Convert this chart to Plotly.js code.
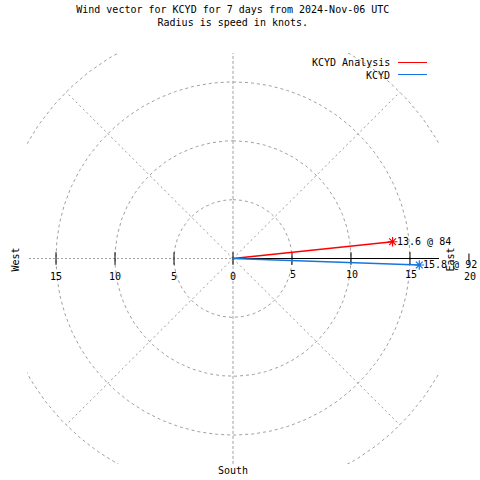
<!DOCTYPE html>
<html><head><meta charset="utf-8">
<script src="https://cdn.plot.ly/plotly-3.0.1.min.js"></script>
<style>html,body{margin:0;padding:0;background:#fff}</style>
</head><body><div id="chart" style="width:480px;height:480px"></div>
<script>
// ---- data ----
const series = ['KCYD Analysis', 'KCYD'];
const speeds = [13.6, 15.8];
const directions = [84, 92];
const ringRadii = [5, 10, 15, 20];
const tickValues = [5, 10, 15];
const leftTickValues = [15, 10, 5, 0];
const outerTick = 20;
const titleLines = ['Wind vector for KCYD for 7 days from 2024-Nov-06 UTC', 'Radius is speed in knots.'];

// ---- styles ----
const colors = ['#ff0000', '#1476e2'];
const gridColor = '#a0a0a0';
const FONT = {family: 'DejaVu Sans Mono, Liberation Mono, monospace', size: 10, color: '#000'};
const R = 17.46;
const M = {l: 27, r: 41, t: 53, b: 16};
const W = 480, H = 480;
const pw = W - M.l - M.r, ph = H - M.t - M.b;
const pxX = v => (v - M.l) / pw;       // pixel -> paper x
const pxY = v => (H - M.b - v) / ph;   // pixel -> paper y
const kx = v => (v + R) / (2 * R);     // knots -> paper x
const rad = d => d * Math.PI / 180;

const traces = [];
// rings
ringRadii.forEach(r => {
  const xs = [], ys = [];
  for (let t = 0; t <= 360; t += 1) { xs.push(r * Math.sin(rad(t))); ys.push(r * Math.cos(rad(t))); }
  traces.push({x: xs, y: ys, mode: 'lines', line: {color: gridColor, width: 1, dash: '3px,3px'}, hoverinfo: 'skip'});
});
// diagonals
[45, 135, 225, 315].forEach(a => {
  const rMax = ringRadii[ringRadii.length - 1];
  traces.push({x: [0, rMax * Math.sin(rad(a))], y: [0, rMax * Math.cos(rad(a))], mode: 'lines',
    line: {color: '#999999', width: 1, dash: '2px,3px'}, hoverinfo: 'skip'});
});
// axis lines
traces.push({x: [-20, 0], y: [0, 0], mode: 'lines', line: {color: gridColor, width: 1, dash: '2px,2px'}, hoverinfo: 'skip'});
traces.push({x: [0, 0], y: [-20, 20], mode: 'lines', line: {color: gridColor, width: 1, dash: '3px,2px'}, hoverinfo: 'skip'});
traces.push({x: [0, 20], y: [0, 0], mode: 'lines', line: {color: '#000', width: 1}, hoverinfo: 'skip'});
// tick marks
const tickXs = leftTickValues.map(v => -v).concat(tickValues);
traces.push({x: tickXs, y: tickXs.map(() => 0), mode: 'markers', cliponaxis: false,
  marker: {symbol: 'line-ns-open', size: 9, color: '#000', line: {color: '#000', width: 1}}, hoverinfo: 'skip'});

// vectors
const annotations = [];
series.forEach((name, i) => {
  const ex = speeds[i] * Math.sin(rad(directions[i]));
  const ey = speeds[i] * Math.cos(rad(directions[i]));
  traces.push({x: [0, ex], y: [0, ey], mode: 'lines', name: name, line: {color: colors[i], width: 1.5}});
  traces.push({x: [ex], y: [ey], mode: 'markers', cliponaxis: false,
    marker: {symbol: 'asterisk-open', size: 8, color: colors[i], line: {color: colors[i], width: 1.2}}, hoverinfo: 'skip'});
  annotations.push({x: ex, y: ey, xref: 'x', yref: 'y', text: speeds[i] + ' @ ' + directions[i],
    showarrow: false, xanchor: 'left', yanchor: 'middle', xshift: 2, font: FONT});
});

// tick labels
leftTickValues.forEach(v => {
  annotations.push({x: -v, y: 0, xref: 'x', yref: 'y', text: String(v), showarrow: false,
    xanchor: 'center', yanchor: 'middle', yshift: -18, font: FONT});
});
tickValues.forEach(v => {
  annotations.push({x: v, y: 0, xref: 'x', yref: 'y', text: String(v), showarrow: false,
    xanchor: 'center', yanchor: 'middle', yshift: -16, xshift: 1, font: FONT});
});
// outer tick (beyond the clipped plot area)
annotations.push({x: kx(outerTick), y: 0, xref: 'paper', yref: 'y', text: String(outerTick), showarrow: false,
  xanchor: 'center', yanchor: 'middle', yshift: -18, xshift: 1, font: FONT});
const shapes = [];
shapes.push({type: 'line', xref: 'paper', yref: 'paper', x0: kx(outerTick), x1: kx(outerTick),
  y0: 0.5 - 5 / ph, y1: 0.5 + 5 / ph, line: {color: '#000', width: 1}});

// compass labels
annotations.push({x: pxX(15), y: 0, xref: 'paper', yref: 'y', text: 'West', textangle: -90, showarrow: false,
  xanchor: 'center', yanchor: 'middle', yshift: -1, font: FONT});
annotations.push({x: pxX(450), y: 0, xref: 'paper', yref: 'y', text: 'East', textangle: -90, showarrow: false,
  xanchor: 'center', yanchor: 'middle', yshift: -1, font: FONT});
annotations.push({x: 0, y: pxY(470), xref: 'x', yref: 'paper', text: 'South', showarrow: false,
  xanchor: 'center', yanchor: 'middle', font: FONT});

// legend
const legendRows = [63, 75];
series.forEach((name, i) => {
  annotations.push({x: pxX(392), y: pxY(legendRows[i]), xref: 'paper', yref: 'paper', text: name,
    showarrow: false, xanchor: 'right', yanchor: 'middle', font: FONT});
  shapes.push({type: 'line', xref: 'paper', yref: 'paper', x0: pxX(398), x1: pxX(427),
    y0: pxY(legendRows[i] - 0.5), y1: pxY(legendRows[i] - 0.5), line: {color: colors[i], width: 1}});
});

const layout = {
  width: W, height: H, margin: M, showlegend: false,
  paper_bgcolor: '#fff', plot_bgcolor: '#fff',
  title: {text: titleLines.join('<br>'), font: FONT, x: 0.485, xanchor: 'center',
    y: 1 - 13 / H, yref: 'container', yanchor: 'top'},
  xaxis: {range: [-R, R], visible: false, showgrid: false, zeroline: false, fixedrange: true},
  yaxis: {range: [-R, R], visible: false, showgrid: false, zeroline: false, fixedrange: true},
  annotations: annotations, shapes: shapes
};
Plotly.newPlot('chart', traces, layout, {staticPlot: true, displayModeBar: false});
</script></body></html>
